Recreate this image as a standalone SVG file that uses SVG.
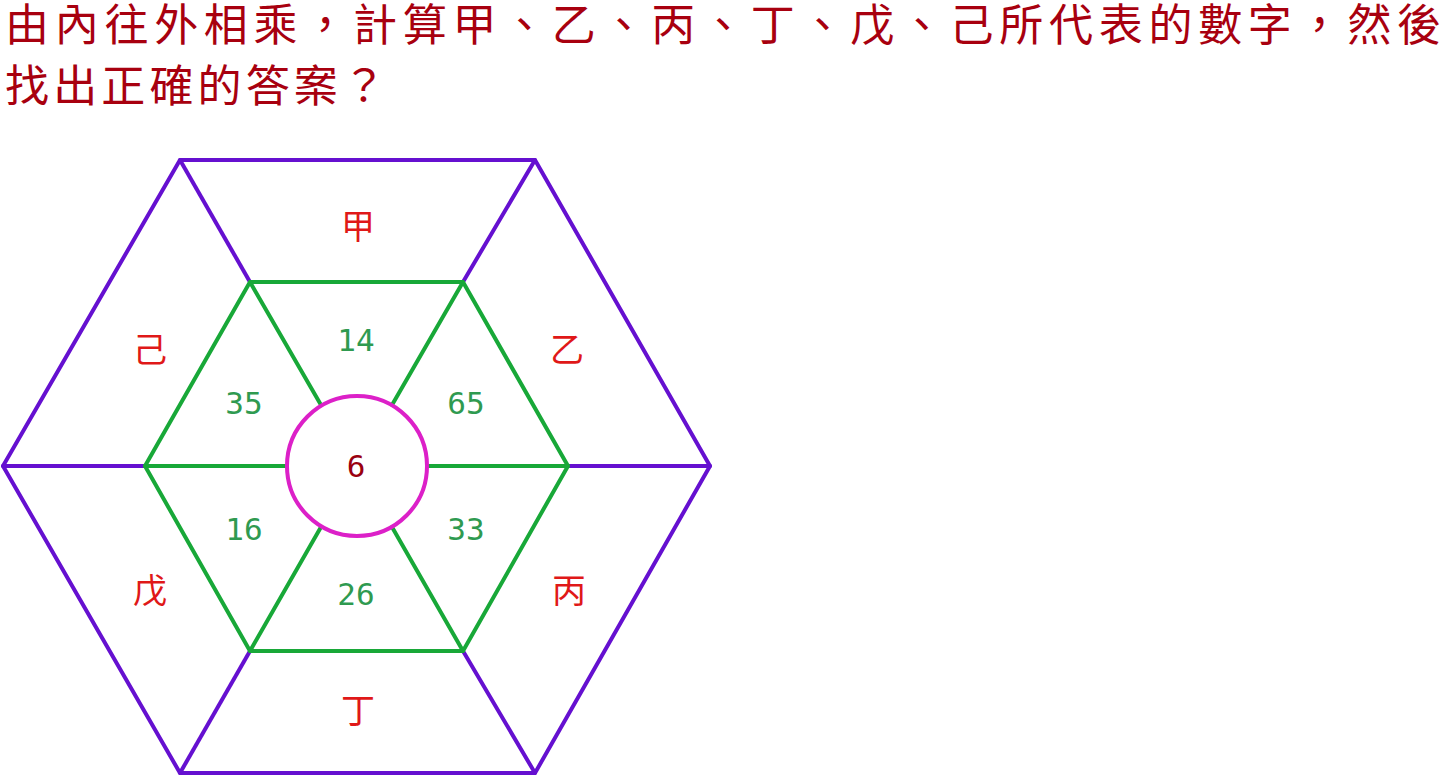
<svg xmlns="http://www.w3.org/2000/svg" width="1452" height="775" viewBox="0 0 1452 775">
<style>
.title{font-family:"Noto Sans CJK TC","Noto Sans CJK SC",sans-serif;font-size:44px;fill:#a8000f}
.lab{font-family:"Noto Sans CJK TC","Noto Sans CJK SC",sans-serif;font-size:34px;fill:#e01818;text-anchor:middle;dominant-baseline:central}
.num{font-family:"DejaVu Sans Mono",monospace;font-size:31px;fill:#2f9a50;text-anchor:middle;dominant-baseline:central}
.ctr{font-family:"DejaVu Sans Mono",monospace;font-size:31px;fill:#9a0010;text-anchor:middle;dominant-baseline:central}
.p{stroke:#6510d0;stroke-width:4;fill:none;stroke-linecap:round;stroke-linejoin:round}
.g{stroke:#18a838;stroke-width:4;fill:none;stroke-linecap:round;stroke-linejoin:round}
</style>
<rect width="1452" height="775" fill="#fff"/>
<g id="title">
<text class="title" x="5" y="41" textLength="1436" lengthAdjust="spacing">由內往外相乘，計算甲、乙、丙、丁、戊、己所代表的數字，然後</text>
<text class="title" x="5" y="102" textLength="381" lengthAdjust="spacing">找出正確的答案？</text>
</g>
<g id="connectors">
<polygon class="p" points="180,160 535,160 710,466 535,773 180,773 3,466"/>
<line class="p" x1="180" y1="160" x2="250" y2="282"/>
<line class="p" x1="535" y1="160" x2="463" y2="282"/>
<line class="p" x1="710" y1="466" x2="568" y2="466"/>
<line class="p" x1="535" y1="773" x2="463" y2="651"/>
<line class="p" x1="180" y1="773" x2="250" y2="651"/>
<line class="p" x1="3" y1="466" x2="145" y2="466"/>
<polygon class="g" points="250,282 463,282 568,466 463,651 250,651 145,466"/>
<line class="g" x1="250" y1="282" x2="321" y2="405"/>
<line class="g" x1="463" y1="282" x2="392" y2="405"/>
<line class="g" x1="568" y1="466" x2="427" y2="466"/>
<line class="g" x1="463" y1="651" x2="392" y2="527"/>
<line class="g" x1="250" y1="651" x2="321" y2="527"/>
<line class="g" x1="145" y1="466" x2="287" y2="466"/>
</g>
<g id="center"><circle cx="357" cy="466" r="70" fill="none" stroke="#dc20c8" stroke-width="4"/><text class="ctr" x="356" y="466">6</text></g>
<g id="n14"><text class="num" x="356" y="340">14</text></g>
<g id="n35"><text class="num" x="244" y="403">35</text></g>
<g id="n65"><text class="num" x="466" y="403">65</text></g>
<g id="n16"><text class="num" x="244" y="529">16</text></g>
<g id="n33"><text class="num" x="466" y="529">33</text></g>
<g id="n26"><text class="num" x="356" y="594">26</text></g>
<g id="jia"><text class="lab" x="358" y="224">甲</text></g>
<g id="yi"><text class="lab" x="567" y="347">乙</text></g>
<g id="bing"><text class="lab" x="569" y="588">丙</text></g>
<g id="ding"><text class="lab" x="358" y="708">丁</text></g>
<g id="wu"><text class="lab" x="150" y="588">戊</text></g>
<g id="ji"><text class="lab" x="150" y="347">己</text></g>
</svg>
